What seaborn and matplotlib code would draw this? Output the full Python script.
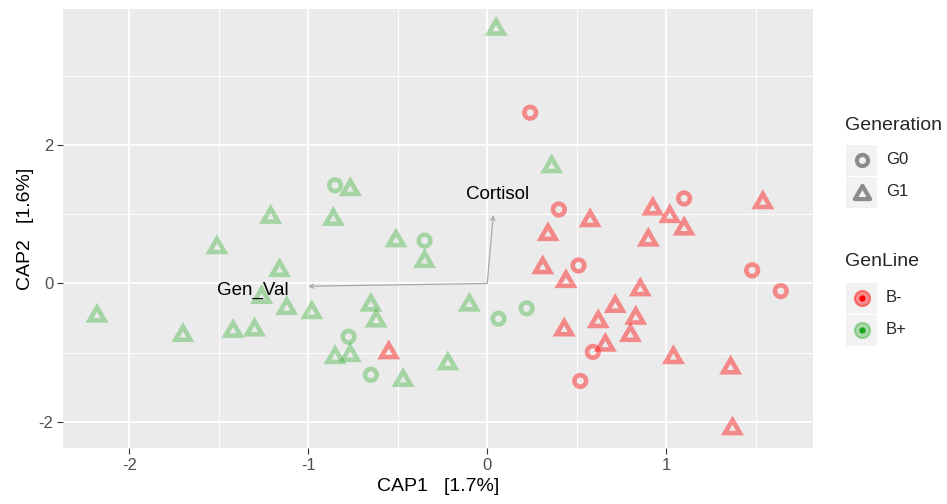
import matplotlib
matplotlib.use("Agg")
import matplotlib.pyplot as plt
from matplotlib.patches import Rectangle
from matplotlib.path import Path
import seaborn as sns
import pandas as pd

# ---- ordination scores (CAP1, CAP2) by group ----
bplus_g1_cap1 = [0.05, 0.36, -0.765, -1.21, -0.86, -0.51, -1.51, -0.35, -1.16, -2.18,
                 -1.70, -1.42, -1.30, -1.26, -1.12, -0.98, -0.65, -0.62, -0.85, -0.765,
                 -0.47, -0.22, -0.10]
bplus_g1_cap2 = [3.71, 1.72, 1.39, 0.99, 0.96, 0.65, 0.55, 0.35, 0.22, -0.44,
                 -0.72, -0.66, -0.64, -0.17, -0.33, -0.39, -0.28, -0.51, -1.04, -1.01,
                 -1.37, -1.13, -0.28]
bplus_g0_cap1 = [-0.85, -0.35, -0.775, -0.65, 0.063, 0.22]
bplus_g0_cap2 = [1.42, 0.62, -0.77, -1.32, -0.51, -0.36]
bminus_g1_cap1 = [-0.55, 0.31, 0.44, 0.855, 0.715, 0.62, 0.83, 0.43, 0.80, 0.66,
                  1.04, 1.36, 1.37, 0.575, 0.34, 0.925, 1.02, 1.10, 0.90, 1.54]
bminus_g1_cap2 = [-0.97, 0.26, 0.06, -0.06, -0.30, -0.52, -0.47, -0.64, -0.72, -0.86,
                  -1.04, -1.19, -2.07, 0.94, 0.74, 1.11, 1.00, 0.82, 0.66, 1.20]
bminus_g0_cap1 = [0.24, 0.40, 1.10, 0.51, 1.48, 1.64, 0.59, 0.52]
bminus_g0_cap2 = [2.47, 1.07, 1.23, 0.26, 0.19, -0.11, -0.99, -1.41]

# ---- environmental vectors ----
vector_names = ["Cortisol", "Gen_Val"]
vector_cap1 = [0.034, -1.0]
vector_cap2 = [0.99, -0.04]
label_cap1 = [0.056, -1.31]
label_cap2 = [1.28, -0.10]

x_ticks = [-2, -1, 0, 1]
y_ticks = [-2, 0, 2]

groups = [
    (bminus_g0_cap1, bminus_g0_cap2, "G0", "B-"),
    (bminus_g1_cap1, bminus_g1_cap2, "G1", "B-"),
    (bplus_g0_cap1, bplus_g0_cap2, "G0", "B+"),
    (bplus_g1_cap1, bplus_g1_cap2, "G1", "B+"),
]
frames = []
for c1, c2, gen, line in groups:
    frames.append(pd.DataFrame({"CAP1": c1, "CAP2": c2,
                                "Generation": gen, "GenLine": line}))
df = pd.concat(frames, ignore_index=True)

line_colors = {"B-": (1.0, 0.0, 0.0, 0.42), "B+": (0.0, 0.62, 0.0, 0.30)}
line_solid = {"B-": (1.0, 0.0, 0.0), "B+": (0.1, 0.65, 0.1)}
# closed equilateral triangle, centred on its bounding box
triangle = Path([(-1, -0.866), (1, -0.866), (0, 0.866), (-1, -0.866)],
                [Path.MOVETO, Path.LINETO, Path.LINETO, Path.CLOSEPOLY])

sns.set_theme(style="darkgrid", rc={
    "axes.facecolor": "#EBEBEB",
    "grid.color": "white",
    "axes.edgecolor": "#EBEBEB",
})
plt.rcParams["font.family"] = ["Liberation Sans", "DejaVu Sans"]

fig = plt.figure(figsize=(9.47, 5.04), dpi=100)
ax = fig.add_axes([63 / 947, 1 - 448 / 504, 750 / 947, 439 / 504])

sns.scatterplot(data=df, x="CAP1", y="CAP2", hue="GenLine", style="Generation",
                size="Generation", sizes={"G0": 70, "G1": 118},
                markers={"G0": "o", "G1": triangle},
                palette={k: v[:3] for k, v in line_colors.items()},
                legend=False, ax=ax)

# open symbols with thick translucent outlines
coll = ax.collections[0]
coll.set_edgecolors([line_colors[g] for g in df["GenLine"]])
coll.set_facecolors("none")
coll.set_linewidths(3.3)
coll.set_joinstyle("miter")

# biplot arrows and their labels
for name, vx, vy, lx, ly in zip(vector_names, vector_cap1, vector_cap2,
                                label_cap1, label_cap2):
    ax.annotate("", xy=(vx, vy), xytext=(0, 0),
                arrowprops=dict(arrowstyle="->", color="#A8A8A8", lw=0.9,
                                mutation_scale=7, shrinkA=0, shrinkB=0))
    ax.text(lx, ly, name, ha="center", va="center", fontsize=13.5, color="black")

ax.set_xlim(-2.37, 1.82)
ax.set_ylim(-2.38, 3.97)
ax.set_xticks(x_ticks)
ax.set_yticks(y_ticks)
ax.set_xticklabels([str(t) for t in x_ticks])
ax.set_yticklabels([str(t) for t in y_ticks])
ax.set_xticks([-1.5, -0.5, 0.5, 1.5], minor=True)
ax.set_yticks([-1, 1, 3], minor=True)
ax.grid(which="major", color="white", lw=1.3)
ax.grid(which="minor", color="white", lw=0.65)
ax.tick_params(which="major", length=4, width=0.8, color="#333333",
               labelsize=12, labelcolor="#4D4D4D", pad=3)
ax.tick_params(which="minor", length=0)
ax.tick_params(axis="both", which="major", bottom=True, left=True)
for s in ax.spines.values():
    s.set_visible(False)
ax.set_xlabel("CAP1   [1.7%]", fontsize=14, color="black", labelpad=4)
ax.set_ylabel("CAP2   [1.6%]", fontsize=14, color="black", labelpad=3)

# legend drawn in figure pixel space
lax = fig.add_axes([0, 0, 1, 1])
lax.set_xlim(0, 947)
lax.set_ylim(504, 0)
lax.axis("off")
lax.patch.set_alpha(0)

key_x = 861.5
lab_x = 886
lax.text(845, 125, "Generation", fontsize=14, va="center", ha="left")
for ky, lab, mk, ms in [(160, "G0", "o", 8.0), (192, "G1", triangle, 11.0)]:
    lax.add_patch(Rectangle((key_x - 15.5, ky - 15.5), 31, 31,
                            fc="#F2F2F2", ec="none"))
    lax.plot([key_x], [ky], marker=mk, ms=ms, mfc="none", mec="#8C8C8C",
             mew=3.0, ls="none")
    lax.text(lab_x, ky, lab, fontsize=12, va="center", ha="left")

lax.text(845, 262, "GenLine", fontsize=14, va="center", ha="left")
for ky, lab in [(298, "B-"), (330, "B+")]:
    lax.add_patch(Rectangle((key_x - 15.5, ky - 15.5), 31, 31,
                            fc="#F2F2F2", ec="none"))
    lax.plot([key_x], [ky], marker="o", ms=11, mfc=line_colors[lab],
             mec=line_colors[lab], mew=1.5, ls="none")
    lax.plot([key_x], [ky], marker="o", ms=4.5, mfc=line_solid[lab],
             mec="none", ls="none")
    lax.text(lab_x, ky, lab, fontsize=12, va="center", ha="left")

fig.savefig("out.png", dpi=100, facecolor="white")
